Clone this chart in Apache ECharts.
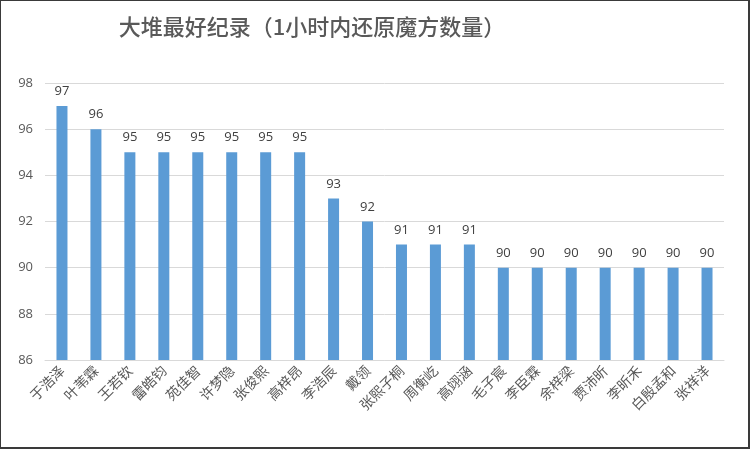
<!DOCTYPE html>
<html>
<head>
<meta charset="utf-8">
<script src="https://cdn.jsdelivr.net/npm/echarts@6/dist/echarts.min.js"></script>
<style>
  html, body { margin: 0; padding: 0; background: #fff; }
  #chart { width: 750px; height: 449px; box-sizing: border-box; border: 1px solid #3a3a3a; border-right-width: 2px; border-bottom-width: 2px; }
</style>
</head>
<body>
<div id="chart"></div>
<script>
var names = ["于浩泽", "叶苇霖", "王若钦", "雷皓钧", "苑佳智", "许梦隐", "张俊熙", "高梓昂", "李浩辰", "戴领",
  "张熙子桐", "周衡屹", "高翊涵", "毛子宸", "李臣霖", "余梓梁", "贾沛昕", "李昕禾", "白殷孟和", "张祥洋"];
var scores = [97, 96, 95, 95, 95, 95, 95, 95, 93, 92, 91, 91, 91, 90, 90, 90, 90, 90, 90, 90];
var yTicks = { min: 86, max: 98, step: 2 };

var chart = echarts.init(document.getElementById("chart"));

var option = {
  animation: false,
  title: {
    text: "大堆最好纪录（1小时内还原魔方数量）",
    left: 306,
    top: 10,
    textAlign: "center",
    textStyle: { fontSize: 22, fontWeight: 500, color: "#595959", fontFamily: "Noto Sans CJK SC" }
  },
  grid: { left: 44, right: 24, top: 82, bottom: 87 },
  xAxis: {
    type: "category",
    data: names,
    axisLine: { lineStyle: { color: "#d9d9d9" } },
    axisTick: { show: false },
    axisLabel: {
      interval: 0,
      rotate: 45,
      margin: 8,
      fontSize: 14,
      color: "#595959",
      fontFamily: "Noto Sans CJK SC"
    }
  },
  yAxis: {
    type: "value",
    min: yTicks.min,
    max: yTicks.max,
    interval: yTicks.step,
    axisLine: { show: false },
    axisTick: { show: false },
    splitLine: { lineStyle: { color: "#d9d9d9" } },
    axisLabel: { fontSize: 13, color: "#595959", margin: 12, fontFamily: "Open Sans" }
  },
  series: [
    {
      type: "bar",
      data: scores,
      barWidth: 11,
      itemStyle: { color: "#5b9bd5" },
      label: {
        show: true,
        position: "top",
        distance: 8,
        fontSize: 13,
        color: "#404040",
        fontFamily: "Open Sans"
      }
    }
  ]
};

chart.setOption(option);
</script>
</body>
</html>
